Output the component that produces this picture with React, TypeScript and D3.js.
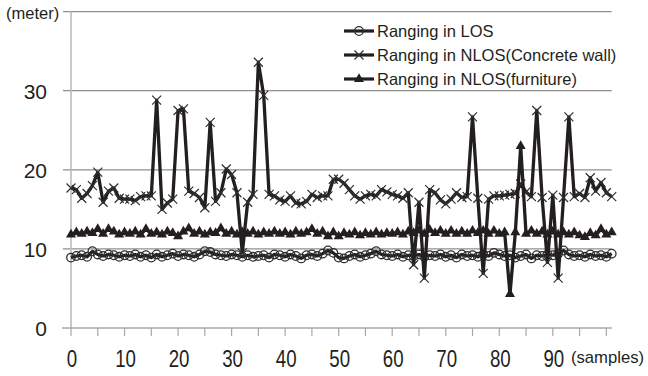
import React, { useEffect, useRef } from 'react';
import * as d3 from 'd3';

// distance measured per sample (meters)
const losValues = [
  8.9, 9.1, 9.2, 9.0, 9.7, 9.3, 9.1, 9.3, 9.2, 9.0,
  9.2, 9.1, 9.3, 9.0, 9.2, 8.9, 9.3, 9.0, 9.2, 9.4,
  9.1, 9.3, 9.2, 9.0, 9.3, 9.7, 9.6, 9.3, 9.2, 9.1,
  9.3, 9.2, 9.0, 9.2, 9.0, 9.1, 9.2, 8.9, 9.3, 9.2,
  9.0, 9.3, 9.1, 8.8, 9.2, 9.3, 9.1, 9.4, 9.8, 9.5,
  8.9, 8.8, 9.1, 9.3, 9.0, 9.2, 9.4, 9.7, 9.3, 9.2,
  9.1, 9.3, 9.0, 9.2, 9.1, 9.3, 9.0, 9.2, 9.1, 9.3,
  9.0, 9.2, 8.9, 9.3, 9.1, 9.2, 9.0, 9.3, 9.1, 9.5,
  9.3, 9.1, 9.2, 8.9, 9.1, 9.3, 8.8, 9.2, 9.1, 9.3,
  9.2, 9.4, 9.8, 9.3, 9.1, 9.2, 9.0, 9.3, 9.1, 9.2,
  9.0, 9.4,
];

const concreteValues = [
  17.7, 17.5, 16.4, 17.0, 18.0, 19.7, 15.9, 17.3, 17.7, 16.4,
  16.3, 16.3, 16.1, 16.6, 16.7, 16.7, 28.8, 15.0, 15.8, 16.3,
  27.5, 27.7, 17.3, 17.0, 16.5, 15.2, 26.0, 16.0, 17.1, 20.1,
  19.4, 17.1, 9.5, 15.9, 16.9, 33.6, 29.4, 16.9, 16.7, 16.2,
  16.0, 16.7, 15.8, 15.7, 16.0, 16.9, 16.5, 16.7, 16.7, 18.8,
  18.8, 18.3, 17.5, 16.7, 16.3, 16.7, 16.9, 16.7, 17.5, 17.2,
  16.9, 16.7, 16.4, 17.1, 8.0, 15.9, 6.3, 17.5, 17.1, 16.2,
  15.7, 16.3, 17.1, 16.5, 16.6, 26.7, 16.4, 6.9, 16.3, 16.7,
  16.7, 16.8, 16.9, 17.0, 18.2, 17.2, 16.6, 27.5, 16.5, 8.3,
  16.8, 6.3, 16.5, 26.7, 16.6, 17.0, 16.5, 19.0, 17.3, 18.4,
  17.1, 16.6,
];

const furnitureValues = [
  11.8, 12.1, 11.9, 12.2, 12.0, 12.5, 11.9, 12.5, 12.2, 11.8,
  12.1, 11.9, 12.2, 11.8, 12.5, 11.9, 12.1, 11.8, 12.2, 12.0,
  11.6, 12.2, 12.6, 11.9, 12.2, 11.8, 12.1, 12.0, 12.6, 11.9,
  12.2, 11.8, 12.1, 11.9, 12.2, 11.8, 12.1, 11.9, 12.2, 11.9,
  12.1, 11.8, 12.2, 11.9, 12.1, 12.5, 11.9, 12.2, 11.6, 12.1,
  11.6, 12.0, 11.8, 12.1, 11.7, 12.0, 11.8, 12.1, 11.8, 12.0,
  11.9, 12.1, 11.8, 12.2, 12.0, 12.3, 11.9, 12.4, 12.0, 12.3,
  11.9, 12.3, 11.9, 12.2, 11.9, 12.3, 12.0, 12.3, 11.9, 12.3,
  11.9, 12.1, 4.3, 12.1, 23.0, 11.9, 12.3, 11.9, 12.2, 11.8,
  12.2, 11.8, 12.1, 11.8, 12.1, 11.7, 11.5, 12.0, 11.7, 12.5,
  11.8, 12.1,
];

const seriesNames = [
  'Ranging in LOS',
  'Ranging in NLOS(Concrete wall)',
  'Ranging in NLOS(furniture)',
];

const yTicks = [0, 10, 20, 30];
const xTickMarks = d3.range(0, 101, 5);
const xTickLabels = [0, 10, 20, 30, 40, 50, 60, 70, 80, 90];

const WIDTH = 648;
const HEIGHT = 376;
const INK = '#231f20';
const FONT = '"Liberation Sans", Arial, sans-serif';

export default function App() {
  const svgRef = useRef<SVGSVGElement>(null);

  useEffect(() => {
    if (!svgRef.current) return;
    const svg = d3.select(svgRef.current);
    svg.selectAll('*').remove();

    const n = losValues.length;
    const x = d3.scaleLinear().domain([0, n - 1]).range([71, 611.7]);
    const y = d3.scaleLinear().domain([0, 40]).range([328, 11.6]);

    // grid lines + small left ticks
    const grid = svg.append('g');
    [10, 20, 30, 40].forEach(v => {
      grid.append('line')
        .attr('x1', 63).attr('x2', x(n - 1))
        .attr('y1', y(v)).attr('y2', y(v))
        .attr('stroke', '#8f8f8f').attr('stroke-width', 1.2);
    });

    // y axis
    svg.append('line')
      .attr('x1', x(0)).attr('x2', x(0))
      .attr('y1', y(40)).attr('y2', y(0))
      .attr('stroke', '#bcbcbc').attr('stroke-width', 1.6);

    // x axis
    svg.append('line')
      .attr('x1', 62).attr('x2', x(n - 1))
      .attr('y1', y(0)).attr('y2', y(0))
      .attr('stroke', '#a8a8a8').attr('stroke-width', 1.4);

    svg.append('g').selectAll('line')
      .data(xTickMarks)
      .enter()
      .append('line')
      .attr('x1', d => x(d)).attr('x2', d => x(d))
      .attr('y1', y(0)).attr('y2', y(0) + 8)
      .attr('stroke', '#a8a8a8').attr('stroke-width', 1.2);

    // tick labels
    svg.append('g').selectAll('text')
      .data(yTicks)
      .enter()
      .append('text')
      .attr('x', 47)
      .attr('y', d => y(d) + 8)
      .attr('text-anchor', 'end')
      .style('font-family', FONT)
      .style('font-size', '21px')
      .attr('fill', INK)
      .text(d => d);

    svg.append('g').selectAll('text')
      .data(xTickLabels)
      .enter()
      .append('text')
      .attr('x', d => x(d) + 1)
      .attr('y', 367)
      .attr('text-anchor', 'middle')
      .attr('textLength', d => String(d).length * 10.4)
      .attr('lengthAdjust', 'spacingAndGlyphs')
      .style('font-family', FONT)
      .style('font-size', '23px')
      .attr('fill', INK)
      .text(d => d);

    svg.append('text')
      .attr('x', 6).attr('y', 19)
      .style('font-family', FONT)
      .style('font-size', '16.5px')
      .attr('fill', INK)
      .text('(meter)');

    svg.append('text')
      .attr('x', 571).attr('y', 363)
      .attr('textLength', 73)
      .attr('lengthAdjust', 'spacingAndGlyphs')
      .style('font-family', FONT)
      .style('font-size', '17px')
      .attr('fill', INK)
      .text('(samples)');

    const line = d3.line<number>()
      .x((_, i) => x(i))
      .y(d => y(d));

    const plot = svg.append('g');

    // LOS: open circles
    plot.append('path')
      .datum(losValues)
      .attr('fill', 'none')
      .attr('stroke', INK)
      .attr('stroke-width', 3.2)
      .attr('stroke-linejoin', 'round')
      .attr('d', line);
    plot.append('g').selectAll('circle')
      .data(losValues)
      .enter()
      .append('circle')
      .attr('cx', (_, i) => x(i))
      .attr('cy', d => y(d))
      .attr('r', 4.3)
      .attr('fill', 'none')
      .attr('stroke', '#2f2f2f')
      .attr('stroke-width', 1.3);

    // concrete wall: crosses
    plot.append('path')
      .datum(concreteValues)
      .attr('fill', 'none')
      .attr('stroke', INK)
      .attr('stroke-width', 3.3)
      .attr('stroke-linejoin', 'round')
      .attr('d', line);
    const crossPath = (cx: number, cy: number, r: number) =>
      `M${cx - r},${cy - r}L${cx + r},${cy + r}M${cx - r},${cy + r}L${cx + r},${cy - r}`;
    plot.append('g').selectAll('path')
      .data(concreteValues)
      .enter()
      .append('path')
      .attr('d', (d, i) => crossPath(x(i), y(d), 4.5))
      .attr('stroke', '#2f2f2f')
      .attr('stroke-width', 1.2)
      .attr('fill', 'none');

    // furniture: filled triangles
    plot.append('path')
      .datum(furnitureValues)
      .attr('fill', 'none')
      .attr('stroke', INK)
      .attr('stroke-width', 3.3)
      .attr('stroke-linejoin', 'round')
      .attr('d', line);
    const tri = d3.symbol(d3.symbolTriangle, 44);
    plot.append('g').selectAll('path')
      .data(furnitureValues)
      .enter()
      .append('path')
      .attr('transform', (d, i) => `translate(${x(i)},${y(d)})`)
      .attr('d', tri)
      .attr('fill', INK);

    // legend
    const legend = svg.append('g');
    const rowY = [31, 55, 79];
    seriesNames.forEach((name, k) => {
      const ly = rowY[k];
      legend.append('line')
        .attr('x1', 344).attr('x2', 374)
        .attr('y1', ly).attr('y2', ly)
        .attr('stroke', INK).attr('stroke-width', 3.2);
      if (k === 0) {
        legend.append('circle')
          .attr('cx', 359).attr('cy', ly).attr('r', 4.3)
          .attr('fill', 'none').attr('stroke', '#2f2f2f').attr('stroke-width', 1.3);
      } else if (k === 1) {
        legend.append('path')
          .attr('d', crossPath(359, ly, 4.5))
          .attr('stroke', '#2f2f2f').attr('stroke-width', 1.2);
      } else {
        legend.append('path')
          .attr('transform', `translate(359,${ly})`)
          .attr('d', tri)
          .attr('fill', INK);
      }
      legend.append('text')
        .attr('x', 377)
        .attr('y', ly + 6)
        .style('font-family', FONT)
        .style('font-size', '16.5px')
        .attr('fill', INK)
        .text(name);
    });
  }, []);

  return (
    <svg
      ref={svgRef}
      width={WIDTH}
      height={HEIGHT}
      style={{ position: 'absolute', left: 0, top: 0, background: '#fff' }}
    />
  );
}
